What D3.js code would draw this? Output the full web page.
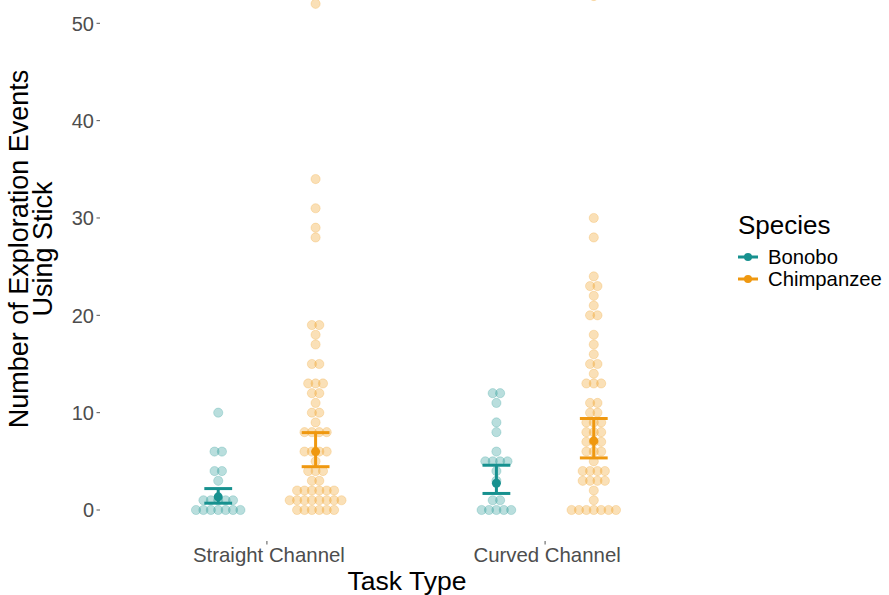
<!DOCTYPE html>
<html>
<head>
<meta charset="utf-8">
<script src="https://cdn.jsdelivr.net/npm/d3@7"></script>
<style>
  html, body { margin: 0; padding: 0; background: #fff; }
  svg { display: block; font-family: "Liberation Sans", Arial, sans-serif; }
</style>
</head>
<body>
<svg id="chart" width="889" height="595"></svg>
<script>
// Task categories and species
const categories = ["Straight Channel", "Curved Channel"];
const species = ["Bonobo", "Chimpanzee"];
const speciesColors = ["#17918f", "#ef9810"];

// Individual exploration counts per task x species
const straightBonobo = [0,0,0,0,0,0,0, 1,1,1,1,1, 3, 4,4, 6,6, 10];
const straightChimp = [0,0,0,0,0,0, 1,1,1,1,1,1,1,1, 2,2,2,2,2,2, 3,3, 4,4,4, 5,
  6,6,6,6, 8,8,8,8, 9, 10,10, 11, 12,12, 13,13,13, 15,15, 17, 18, 19,19, 28, 29, 31, 34, 52];
const curvedBonobo = [0,0,0,0,0, 1,1, 3, 4, 5,5,5,5, 6, 8, 9, 11, 12,12];
const curvedChimp = [0,0,0,0,0,0,0, 1, 2, 3,3,3,3, 4,4,4,4, 5, 6,6,6, 7,7,7, 8,8,8, 9,9,9,
  10,10, 11,11, 13,13,13, 14, 15,15, 16, 17, 18, 20,20, 21, 22, 23,23, 24, 28, 30, 52.8];

// Estimated means with lower / upper interval bounds (Bonobo, Chimpanzee)
const straightMean = [1.35, 6.0];
const straightLow = [0.7, 4.45];
const straightHigh = [2.2, 7.95];
const curvedMean = [2.75, 7.1];
const curvedLow = [1.7, 5.35];
const curvedHigh = [4.6, 9.4];

const yTicks = [0, 10, 20, 30, 40, 50];

// Assemble groups
const dotSets = [
  [straightBonobo, straightChimp],
  [curvedBonobo, curvedChimp]
];
const means = [straightMean, curvedMean];
const lows = [straightLow, curvedLow];
const highs = [straightHigh, curvedHigh];

const svg = d3.select("#chart");
const panel = { left: 100, right: 712, bottom: 541 };

// Discrete x positions with ggplot-like 0.6 expansion
const x = d3.scaleLinear().domain([0.4, categories.length + 0.6]).range([panel.left, panel.right]);
const catX = i => x(i + 1);
const dodge = 0.35;
const groupX = (ci, si) => x(ci + 1 + (si === 0 ? -dodge / 2 : dodge / 2));

const y = d3.scaleLinear().domain([0, 50]).range([510, 23.3]);

// Dots stacked centred on each bin
const dotR = 4.6, dotStep = 7.4;
const dotsG = svg.append("g");
dotSets.forEach((pair, ci) => {
  pair.forEach((vals, si) => {
    const bins = d3.rollups(vals, v => v.length, d => d).sort((a, b) => a[0] - b[0]);
    const cx0 = groupX(ci, si);
    bins.forEach(([val, n]) => {
      for (let k = 0; k < n; k++) {
        dotsG.append("circle")
          .attr("cx", cx0 + (k - (n - 1) / 2) * dotStep)
          .attr("cy", y(val))
          .attr("r", dotR)
          .attr("fill", speciesColors[si])
          .attr("fill-opacity", 0.3)
          .attr("stroke", speciesColors[si])
          .attr("stroke-opacity", 0.22)
          .attr("stroke-width", 1);
      }
    });
  });
});

// Error bars with mean points
const capHalf = x(1.05) - x(1);
const errG = svg.append("g");
means.forEach((mArr, ci) => {
  mArr.forEach((m, si) => {
    const cx = groupX(ci, si);
    const col = speciesColors[si];
    const lo = lows[ci][si], hi = highs[ci][si];
    errG.append("line").attr("x1", cx).attr("x2", cx).attr("y1", y(lo)).attr("y2", y(hi))
      .attr("stroke", col).attr("stroke-width", 3);
    [lo, hi].forEach(v => {
      errG.append("line").attr("x1", cx - capHalf).attr("x2", cx + capHalf)
        .attr("y1", y(v)).attr("y2", y(v)).attr("stroke", col).attr("stroke-width", 3);
    });
    errG.append("circle").attr("cx", cx).attr("cy", y(m)).attr("r", 4.5).attr("fill", col);
  });
});

// Y axis (ticks and labels only)
const yAxis = svg.append("g");
yTicks.forEach(t => {
  yAxis.append("line").attr("x1", panel.left - 3.5).attr("x2", panel.left)
    .attr("y1", y(t)).attr("y2", y(t)).attr("stroke", "#555").attr("stroke-width", 1);
  yAxis.append("text").attr("x", panel.left - 6).attr("y", y(t)).attr("dy", "0.36em")
    .attr("text-anchor", "end").attr("font-size", 20).attr("fill", "#4d4d4d").text(t);
});

// X axis (ticks and labels only)
const xAxis = svg.append("g");
categories.forEach((c, i) => {
  xAxis.append("line").attr("x1", catX(i)).attr("x2", catX(i))
    .attr("y1", panel.bottom).attr("y2", panel.bottom + 3.5).attr("stroke", "#555").attr("stroke-width", 1);
  xAxis.append("text").attr("x", catX(i) + 2).attr("y", 562)
    .attr("text-anchor", "middle").attr("font-size", 20.4).attr("fill", "#4d4d4d").text(c);
});

// Axis titles
svg.append("text").attr("x", (panel.left + panel.right) / 2 + 1).attr("y", 590)
  .attr("text-anchor", "middle").attr("font-size", 26.5).attr("fill", "#000").text("Task Type");
const yTitle = svg.append("text").attr("transform", "translate(28,249) rotate(-90)")
  .attr("text-anchor", "middle").attr("font-size", 27).attr("fill", "#000");
yTitle.append("tspan").attr("x", 0).attr("dy", 0).text("Number of Exploration Events");
yTitle.append("tspan").attr("x", 0).attr("dy", 23.5).text("Using Stick");

// Legend
const legend = svg.append("g");
legend.append("text").attr("x", 738).attr("y", 234).attr("font-size", 26).attr("fill", "#000").text("Species");
species.forEach((s, i) => {
  const ly = 257 + i * 22;
  legend.append("line").attr("x1", 738).attr("x2", 758).attr("y1", ly).attr("y2", ly)
    .attr("stroke", speciesColors[i]).attr("stroke-width", 3);
  legend.append("circle").attr("cx", 748).attr("cy", ly).attr("r", 4).attr("fill", speciesColors[i]);
  legend.append("text").attr("x", 768).attr("y", ly).attr("dy", "0.36em")
    .attr("font-size", 20.3).attr("fill", "#000").text(s);
});
</script>
</body>
</html>
